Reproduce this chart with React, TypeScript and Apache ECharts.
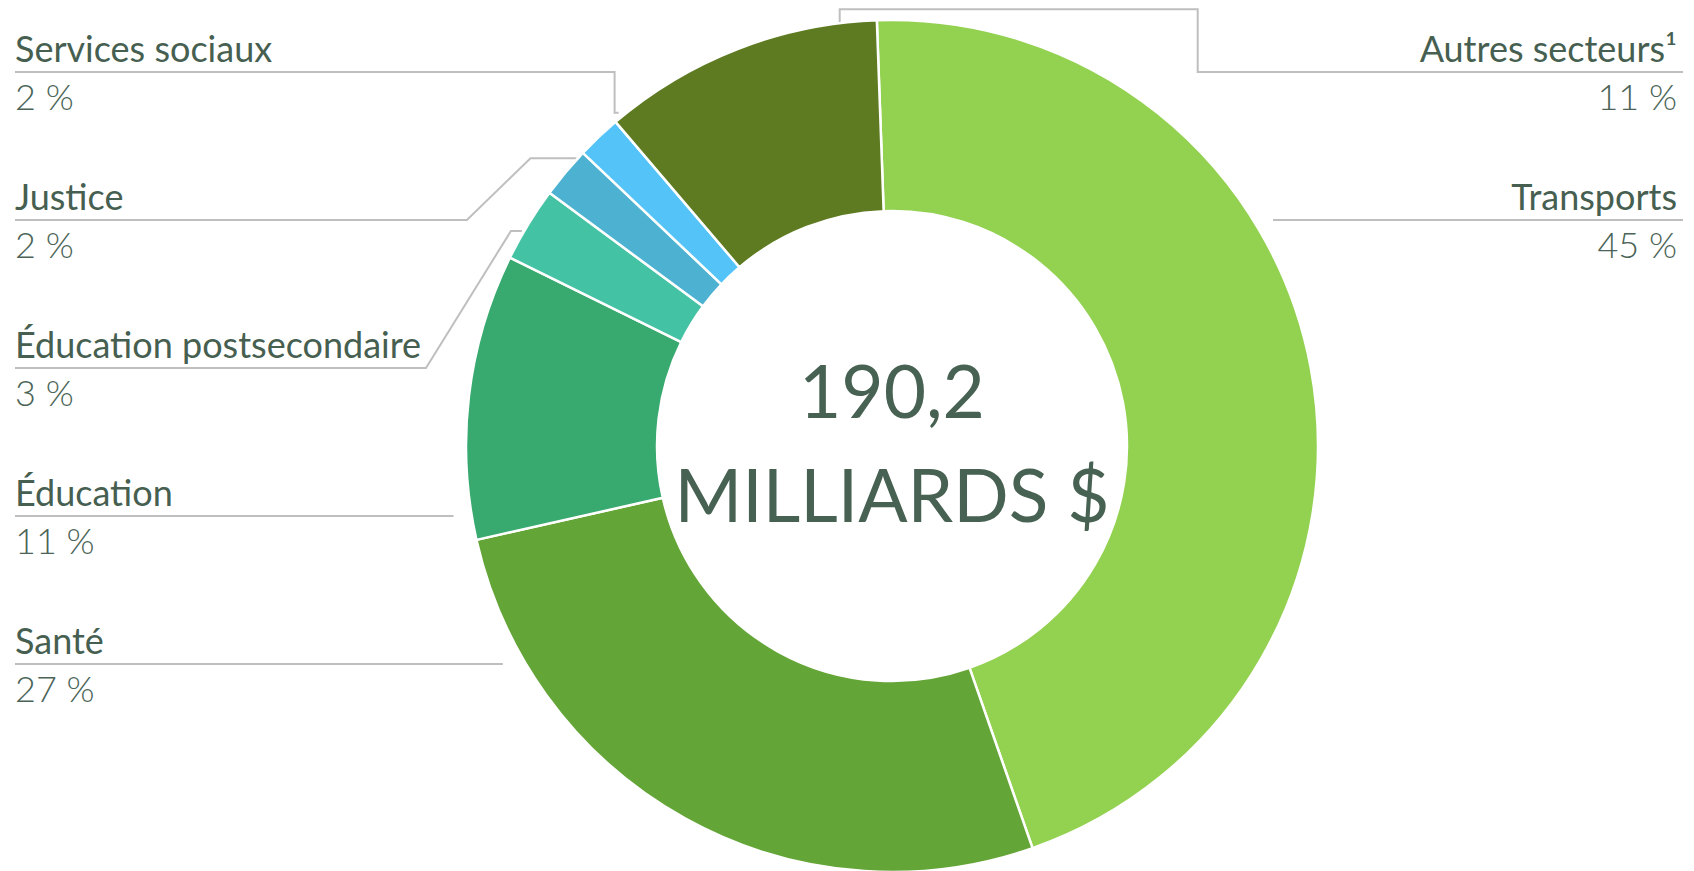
import React, { useEffect, useRef } from "react";
import * as echarts from "echarts";

// ---------- data ----------
const categories = [
  "Transports",
  "Santé",
  "Éducation",
  "Éducation postsecondaire",
  "Justice",
  "Services sociaux",
  "Autres secteurs¹",
];
const valuesBillions = [86.0, 51.0, 20.6, 5.4, 3.7, 3.2, 20.3];
const unitLabel = "MILLIARDS $";

// ---------- styles / layout ----------
const sliceColors = ["#93D151", "#64A537", "#38A96F", "#44C2A4", "#4DB2D2", "#54C3F8", "#5E7B21"];
const W = 1694;
const H = 871;
const PIE_CENTER = [892, 446];
const PIE_RADIUS = [235, 426];
const START_ANGLE = 92.04;
const FONT = "Lato, 'Noto Sans', sans-serif";
const NAME_COLOR = "#465F51";
const PCT_COLOR = "#4B6457";
const LINE_COLOR = "#BFBFBF";
const LABEL_LEFT_X = 15;
const LABEL_RIGHT_X = 1677;
const LABEL_TOP0 = 24;
const LABEL_STEP = 148;
const LINE_H = 48;

const labelSlots: Record<string, { side: "left" | "right"; row: number }> = {
  "Transports": { side: "right", row: 1 },
  "Santé": { side: "left", row: 4 },
  "Éducation": { side: "left", row: 3 },
  "Éducation postsecondaire": { side: "left", row: 2 },
  "Justice": { side: "left", row: 1 },
  "Services sociaux": { side: "left", row: 0 },
  "Autres secteurs¹": { side: "right", row: 0 },
};

type Route =
  | { route: "straight"; gap: number }
  | { route: "elbow"; t: number; gap: number; stub: number; run: number }
  | { route: "over"; t: number; gap: number; rise: number; reach: number };

const leaderRoutes: Record<string, Route> = {
  "Transports": { route: "straight", gap: 17 },
  "Santé": { route: "straight", gap: 20 },
  "Éducation": { route: "straight", gap: 18 },
  "Éducation postsecondaire": { route: "elbow", t: 0.38, gap: 2, stub: 11, run: 0.62 },
  "Justice": { route: "elbow", t: 0.84, gap: 1, stub: 46, run: 1.03 },
  "Services sociaux": { route: "elbow", t: 1.18, gap: 5, stub: 4, run: 0 },
  "Autres secteurs¹": { route: "over", t: 0.87, gap: 1, rise: 13, reach: 358 },
};

function fallbackGeom(i: number) {
  const total = valuesBillions.reduce((a, b) => a + b, 0);
  let cum = 0;
  for (let k = 0; k < i; k++) cum += valuesBillions[k];
  const s0 = (-START_ANGLE * Math.PI) / 180;
  return {
    cx: PIE_CENTER[0],
    cy: PIE_CENTER[1],
    r: PIE_RADIUS[1],
    r0: PIE_RADIUS[0],
    startAngle: s0 + (cum / total) * Math.PI * 2,
    endAngle: s0 + ((cum + valuesBillions[i]) / total) * Math.PI * 2,
  };
}

export default function App() {
  const ref = useRef<HTMLDivElement | null>(null);

  useEffect(() => {
    if (!ref.current) return;
    const chart = echarts.init(ref.current, undefined, { renderer: "svg" });

    const geom = (i: number) => {
      try {
        const data = (chart as any).getModel().getSeriesByIndex(0).getData();
        const l = data.getItemLayout(i);
        if (l && l.startAngle != null && l.cx != null) return l;
      } catch (e) {
        /* ignore */
      }
      return fallbackGeom(i);
    };

    const total = valuesBillions.reduce((a, b) => a + b, 0);
    const totalText = total.toFixed(1).replace(".", ",");

    const nameStyle = { fontFamily: FONT, fontSize: 36, color: NAME_COLOR, lineHeight: LINE_H };
    const pctStyle = { fontFamily: FONT, fontSize: 36, fontWeight: 300, color: PCT_COLOR, lineHeight: LINE_H };

    const option: any = {
      animation: false,
      backgroundColor: "#ffffff",
      graphic: [
        {
          type: "text",
          x: PIE_CENTER[0],
          y: PIE_CENTER[1] - 4,
          silent: true,
          style: {
            text: totalText + "\n" + unitLabel,
            fontFamily: FONT,
            fontSize: 73,
            lineHeight: 104,
            fill: "#476152",
            align: "center",
            verticalAlign: "middle",
          },
        },
      ],
      series: [
        {
          type: "pie",
          center: PIE_CENTER,
          radius: PIE_RADIUS,
          startAngle: START_ANGLE,
          clockwise: true,
          avoidLabelOverlap: false,
          minShowLabelAngle: 0,
          silent: true,
          emphasis: { disabled: true },
          itemStyle: { borderColor: "#ffffff", borderWidth: 2.5 },
          data: categories.map((c, i) => ({
            name: c,
            value: valuesBillions[i],
            itemStyle: { color: sliceColors[i] },
          })),
          label: {
            show: true,
            overflow: "none",
            formatter: (p: any) => {
              const s = labelSlots[p.name].side === "left" ? "l" : "r";
              return `{n${s}|${p.name}}\n{p${s}|${Math.round(p.percent)} %}`;
            },
            rich: {
              nl: { ...nameStyle, align: "left" },
              pl: { ...pctStyle, align: "left" },
              nr: { ...nameStyle, align: "right" },
              pr: { ...pctStyle, align: "right" },
            },
          },
          labelLine: {
            show: true,
            length: 10,
            length2: 10,
            lineStyle: { color: LINE_COLOR, width: 2 },
          },
          labelLayout: (params: any) => {
            const i = params.dataIndex;
            const name = categories[i];
            const slot = labelSlots[name];
            const route = leaderRoutes[name];
            const g = geom(i);
            const top = LABEL_TOP0 + LABEL_STEP * slot.row;
            const U = top + LINE_H;
            const left = slot.side === "left";
            const x = left ? LABEL_LEFT_X : LABEL_RIGHT_X;
            const outerEnd = left ? LABEL_LEFT_X : LABEL_RIGHT_X + 6;
            let pts: number[][] = [];
            if (route.route === "straight") {
              const R = g.r + route.gap;
              const dy = U - g.cy;
              const dx = Math.sqrt(Math.max(0, R * R - dy * dy));
              const xc = left ? g.cx - dx : g.cx + dx;
              pts = [
                [xc, U],
                [outerEnd, U],
              ];
            } else {
              const a = g.startAngle + route.t * (g.endAngle - g.startAngle);
              const R = g.r + route.gap;
              const P = [g.cx + R * Math.cos(a), g.cy + R * Math.sin(a)];
              if (route.route === "elbow") {
                const dir = left ? -1 : 1;
                const Q = [P[0] + dir * route.stub, P[1]];
                const E = [Q[0] + dir * Math.abs(U - Q[1]) * route.run, U];
                pts = [P, Q, E, [outerEnd, U]];
              } else {
                const A = [P[0], P[1] - route.rise];
                const B = [P[0] + route.reach, A[1]];
                const C = [B[0], U];
                pts = [P, A, B, C, [outerEnd, U]];
              }
            }
            return {
              x,
              y: top,
              align: left ? "left" : "right",
              verticalAlign: "top",
              labelLinePoints: pts,
            };
          },
        },
      ],
    };

    chart.setOption(option);
    return () => {
      chart.dispose();
    };
  }, []);

  return (
    <div
      ref={ref}
      style={{ position: "absolute", left: 0, top: 0, width: W, height: H, background: "#fff" }}
    />
  );
}
